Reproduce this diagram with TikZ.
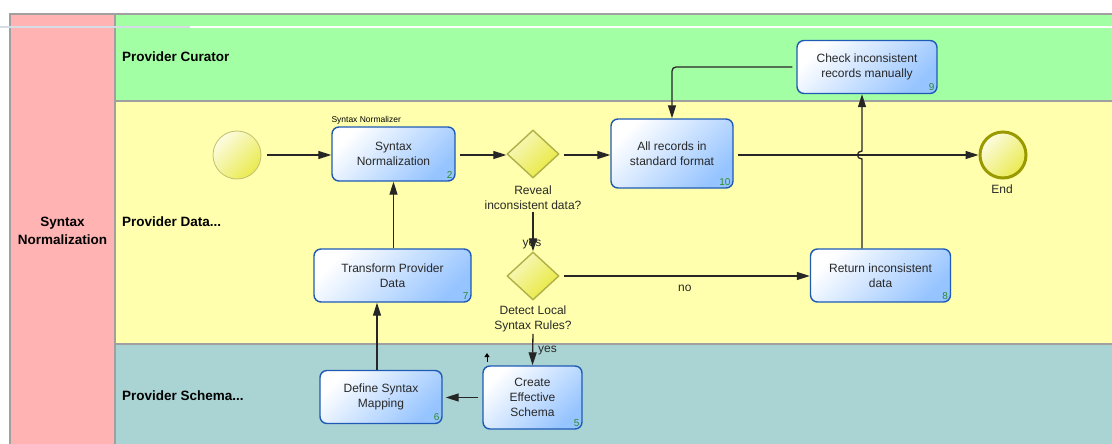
\documentclass[tikz,border=0pt]{standalone}
\usepackage{fontspec}
\setmainfont{Liberation Sans}
\usetikzlibrary{arrows.meta,shapes.geometric,calc}
\definecolor{poolpink}{HTML}{FFB3B3}
\definecolor{lanegreen}{HTML}{A3FFA3}
\definecolor{laneyellow}{HTML}{FFFFAD}
\definecolor{laneteal}{HTML}{AAD3D3}
\definecolor{lanegray}{HTML}{A0A0A0}
\definecolor{glitch}{HTML}{D6DCE6}
\definecolor{taskblue}{HTML}{96C4FF}
\definecolor{taskborder}{HTML}{1F5BB4}
\definecolor{numgreen}{HTML}{2E8B2E}
\definecolor{gwlight}{HTML}{F8F8C0}
\definecolor{gwfill}{HTML}{E8E83C}
\definecolor{gwborder}{HTML}{B0B048}
\definecolor{evfill}{HTML}{EAEA50}
\definecolor{evlight}{HTML}{FCFCE0}
\definecolor{startborder}{HTML}{C0C070}
\definecolor{endborder}{HTML}{9A9A00}
\definecolor{txt}{HTML}{282828}
\begin{document}
\begin{tikzpicture}[x=1pt,y=-1pt,
  task/.style={draw=taskborder, line width=1.4pt, rounded corners=7pt,
    top color=white, bottom color=taskblue, shading angle=45,
    align=center, font=\fontsize{12}{15}\selectfont, text=txt, inner sep=0pt},
  num/.style={anchor=south east, text=numgreen, font=\fontsize{10}{10}\selectfont, inner sep=0pt},
  gw/.style={diamond, draw=gwborder, line width=1.4pt, top color=gwlight, bottom color=gwfill,
    shading angle=45, minimum width=52pt, minimum height=48pt, inner sep=0pt},
  startev/.style={circle, draw=startborder, line width=0.8pt, top color=evlight, bottom color=evfill,
    shading angle=45, minimum size=48pt, inner sep=0pt},
  endev/.style={circle, draw=endborder, line width=3pt, top color=evlight, bottom color=evfill,
    shading angle=45, minimum size=46pt, inner sep=0pt},
  lbl/.style={text=txt, font=\fontsize{12}{15}\selectfont, align=center, inner sep=0pt},
  lanelbl/.style={anchor=west, font=\fontsize{13.5}{16}\selectfont\bfseries, inner sep=0pt},
  flow/.style={draw=black!85, line width=1.3pt, -{Triangle[length=13pt,width=8pt]}, shorten <=4pt},
  border/.style={draw=lanegray, line width=2pt}
]
\useasboundingbox (0,0) rectangle (1112,444);
% pool and lanes
\fill[poolpink] (10,14) rectangle (115,444);
\fill[lanegreen] (115,14) rectangle (1112,101.5);
\fill[laneyellow] (115,101.5) rectangle (1112,344);
\fill[laneteal] (115,344) rectangle (1112,444);
\draw[border] (10,444) -- (10,14) -- (1112,14);
\draw[border] (115,14) -- (115,444);
\draw[border] (115,101.5) -- (1112,101.5);
\draw[border] (115,344) -- (1112,344);
\draw[white, line width=2pt] (190,27) -- (1112,27);
\draw[glitch, line width=2pt] (0,27) -- (190,27);
% labels
\node[align=center, font=\fontsize{13.5}{18}\selectfont\bfseries, inner sep=0pt] (pool) at (62.5,231) {Syntax\\Normalization};
\node[lanelbl] (l1) at (122,57) {Provider Curator};
\node[lanelbl] (l2) at (122,222) {Provider Data...};
\node[lanelbl] (l3) at (122,396) {Provider Schema...};
% events
\node[startev] (start) at (237,155) {};
\node[endev] (end) at (1003,155) {};
\node[lbl] (endlbl) at (1002,189) {End};
% tasks
\node[task, minimum width=123pt, minimum height=54pt] (sn) at (393.5,154) {Syntax\\Normalization};
\node[num] (n2) at ([xshift=-3pt,yshift=3pt]sn.south east) {2};
\node[anchor=south west, inner sep=0pt, font=\fontsize{8.5}{9}\selectfont] (snr) at ([yshift=1.5pt]sn.north west) {Syntax Normalizer};
\node[task, minimum width=122pt, minimum height=69pt] (all) at (672,153.5) {All records in\\standard format};
\node[num] (n10) at ([xshift=-3pt,yshift=3pt]all.south east) {10};
\node[task, minimum width=140pt, minimum height=53pt] (chk) at (867,67) {Check inconsistent\\records manually};
\node[num] (n9) at ([xshift=-3pt,yshift=3pt]chk.south east) {9};
\node[task, minimum width=157pt, minimum height=53pt] (tpd) at (392.5,275.5) {Transform Provider\\Data};
\node[num] (n7) at ([xshift=-3pt,yshift=3pt]tpd.south east) {7};
\node[task, minimum width=140pt, minimum height=53pt] (ret) at (880.5,275.5) {Return inconsistent\\data};
\node[num] (n8) at ([xshift=-3pt,yshift=3pt]ret.south east) {8};
\node[task, minimum width=122pt, minimum height=53pt] (dsm) at (381,397) {Define Syntax\\Mapping};
\node[num] (n6) at ([xshift=-3pt,yshift=3pt]dsm.south east) {6};
\node[task, minimum width=99pt, minimum height=63pt] (ces) at (532.5,397.5) {Create\\Effective\\Schema};
\node[num] (n5) at ([xshift=-3pt,yshift=3pt]ces.south east) {5};
% gateways
\node[gw] (g1) at (533,154) {};
\node[lbl] (g1l) at (533,197.5) {Reveal\\inconsistent data?};
\node[gw] (g2) at (533,276) {};
\node[lbl] (g2l) at (533,318.5) {Detect Local\\Syntax Rules?};
% flows
\coordinate (mainy) at (0,155);
\draw[flow, shorten <=6pt] (start.east) -- (start.east -| sn.west);
\draw[flow] (sn.east |- mainy) -- (g1.west |- mainy);
\draw[flow] (g1.east |- mainy) -- (all.west |- mainy);
\draw[flow] (all.east |- mainy) -- (end.west);
\coordinate (vx) at (862,0);
\coordinate (hop) at (vx |- mainy);
\draw[flow, shorten <=0pt] (vx |- ret.north) -- ([yshift=-4pt]hop) .. controls ([xshift=-6pt,yshift=-4pt]hop) and ([xshift=-6pt,yshift=4pt]hop) .. ([yshift=4pt]hop) -- (vx |- chk.south);
\draw[flow, rounded corners=4pt] (chk.west) -| (all.north);
\draw[flow, shorten <=2pt] (g1l.south) -- (g2.north);
\node[lbl] (yes1) at (532,245) {yes};
\draw[flow] (g2.east) -- node[lbl, below=8pt] (no) {no} (g2.east -| ret.west);
\draw[flow, shorten <=2pt] (g2l.south) -- (ces.north);
\node[lbl, anchor=west] (yes2) at (538,351) {yes};
\draw[flow, shorten >=3pt] (ces.west) -- (ces.west -| dsm.east);
\coordinate (dsmtop) at ([xshift=-4pt]dsm.north);
\draw[flow, shorten <=0pt] (dsmtop) -- (dsmtop |- tpd.south);
\draw[flow, shorten <=0pt] (sn.south |- tpd.north) -- (sn.south);
\coordinate (st1) at (487,362);
\coordinate (st2) at (487,353);
\draw[draw=black, line width=1pt, -{Triangle[length=4pt,width=5pt]}] (st1) -- (st2);
\end{tikzpicture}
\end{document}
